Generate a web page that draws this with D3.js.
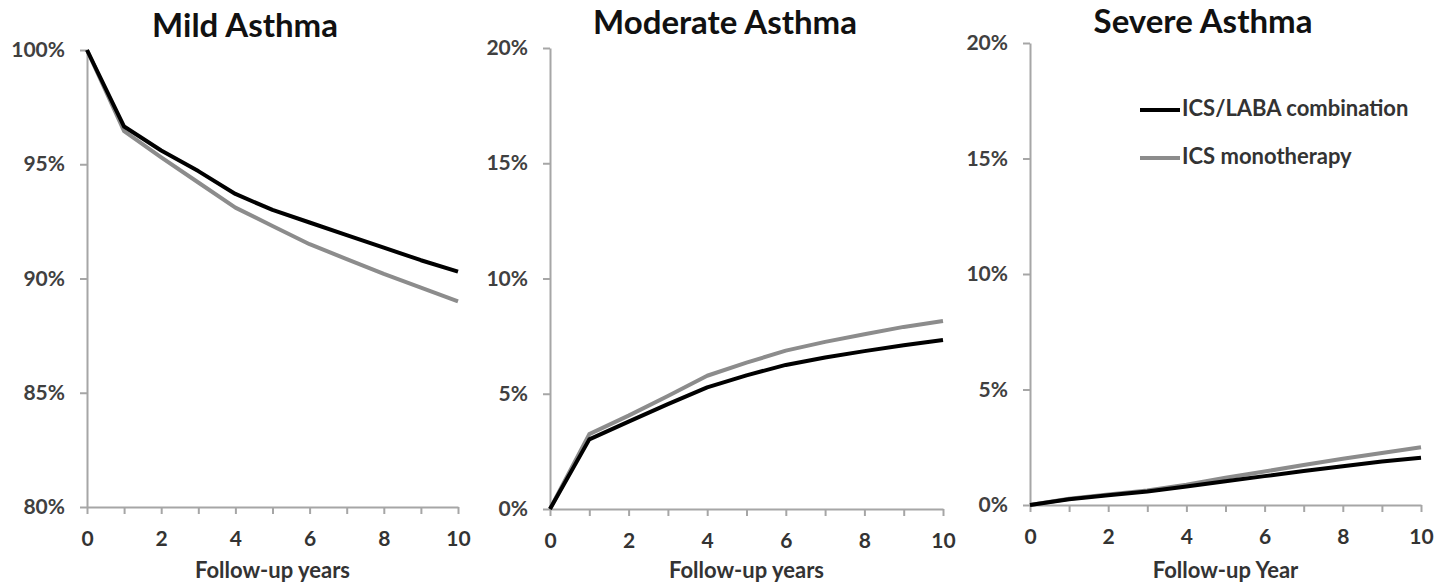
<!DOCTYPE html>
<html><head><meta charset="utf-8">
<script src="https://cdn.jsdelivr.net/npm/d3@7"></script>
<style>body{margin:0;background:#fff}svg{display:block}</style>
</head><body>
<svg id="c" width="1442" height="585"></svg>
<script>
const years = [0,1,2,3,4,5,6,7,8,9,10];
const seriesNames = ["ICS/LABA combination","ICS monotherapy"];
const panelTitles = ["Mild Asthma","Moderate Asthma","Severe Asthma"];
const xTitles = ["Follow-up years","Follow-up years","Follow-up Year"];
const mildCombo = [100,96.65,95.6,94.7,93.7,93.0,92.45,91.9,91.35,90.8,90.3];
const mildMono  = [100,96.45,95.3,94.2,93.1,92.3,91.5,90.85,90.2,89.6,89.0];
const modCombo  = [0,3.02,3.79,4.55,5.28,5.8,6.25,6.57,6.85,7.1,7.33];
const modMono   = [0,3.25,4.05,4.9,5.78,6.35,6.87,7.25,7.58,7.9,8.16];
const sevCombo  = [0,0.25,0.42,0.58,0.8,1.03,1.25,1.47,1.68,1.88,2.05];
const sevMono   = [0,0.27,0.45,0.63,0.88,1.18,1.45,1.73,2.0,2.25,2.5];
const yTicksMild = [80,85,90,95,100];
const yTicksOther = [0,5,10,15,20];
const xTickLabels = [0,2,4,6,8,10];

const colors = ["#000000","#8c8c8c"];
const font = "Lato, 'Open Sans', sans-serif";
const svg = d3.select("#c");

const panels = [
  {title:panelTitles[0], xt:xTitles[0], data:[mildCombo,mildMono], yd:[80,100], yt:yTicksMild, x0:87, x1:458, y0:507, y1:50, tx:245, ty:37},
  {title:panelTitles[1], xt:xTitles[1], data:[modCombo,modMono], yd:[0,20], yt:yTicksOther, x0:550, x1:943, y0:509, y1:48, tx:725, ty:34},
  {title:panelTitles[2], xt:xTitles[2], data:[sevCombo,sevMono], yd:[0,20], yt:yTicksOther, x0:1030, x1:1421, y0:505, y1:43, tx:1203, ty:33}
];

panels.forEach((p,pi)=>{
  const x = d3.scaleLinear().domain([0,10]).range([p.x0,p.x1]);
  const y = d3.scaleLinear().domain(p.yd).range([p.y0,p.y1]);
  const g = svg.append("g");
  // y axis
  const ya = g.append("g").attr("transform",`translate(${p.x0},0)`)
    .call(d3.axisLeft(y).tickValues(p.yt).tickSize(7).tickSizeOuter(0).tickFormat(d=>d+"%"));
  ya.select(".domain").attr("stroke","#a6a6a6").attr("stroke-width",2);
  ya.selectAll(".tick line").attr("stroke","#a6a6a6").attr("stroke-width",2);
  ya.selectAll(".tick text").attr("x",-22).attr("font-family",font).attr("font-weight",700)
    .attr("font-size",21).attr("fill","#404040");
  // x axis
  const xa = g.append("g").attr("transform",`translate(0,${p.y0})`)
    .call(d3.axisBottom(x).tickValues(years).tickSize(7).tickSizeOuter(0)
      .tickFormat(d=>xTickLabels.includes(d)?d:""));
  xa.select(".domain").attr("stroke","#a6a6a6").attr("stroke-width",2);
  xa.selectAll(".tick line").attr("stroke","#a6a6a6").attr("stroke-width",2);
  xa.selectAll(".tick text").attr("y",24).attr("font-family",font).attr("font-weight",700)
    .attr("font-size",21).attr("fill","#333");
  // lines
  const line = d3.line().x((d,i)=>x(years[i])).y(d=>y(d));
  [1,0].forEach(si=>{
    g.append("path").datum(p.data[si]).attr("d",line).attr("fill","none")
      .attr("stroke",colors[si]).attr("stroke-width",4).attr("stroke-linejoin","round");
  });
  // titles
  g.append("text").attr("x",p.tx).attr("y",p.ty).attr("text-anchor","middle")
    .attr("font-family",font).attr("font-weight",700).attr("font-size",33).attr("fill","#111").text(p.title);
  g.append("text").attr("x",(p.x0+p.x1)/2).attr("y",572).attr("text-anchor","middle").attr("dominant-baseline","middle")
    .attr("font-family",font).attr("font-weight",700).attr("font-size",22).attr("fill","#333").text(p.xt);
});

// legend
const leg = svg.append("g");
seriesNames.forEach((n,i)=>{
  const yy = 110 + i*48;
  leg.append("line").attr("x1",1140).attr("x2",1180).attr("y1",yy).attr("y2",yy)
    .attr("stroke",colors[i]).attr("stroke-width",4);
  leg.append("text").attr("x",1182).attr("y",yy).attr("dominant-baseline","middle")
    .attr("font-family",font).attr("font-weight",700).attr("font-size",22).attr("fill","#333").text(n);
});
</script>
</body></html>
